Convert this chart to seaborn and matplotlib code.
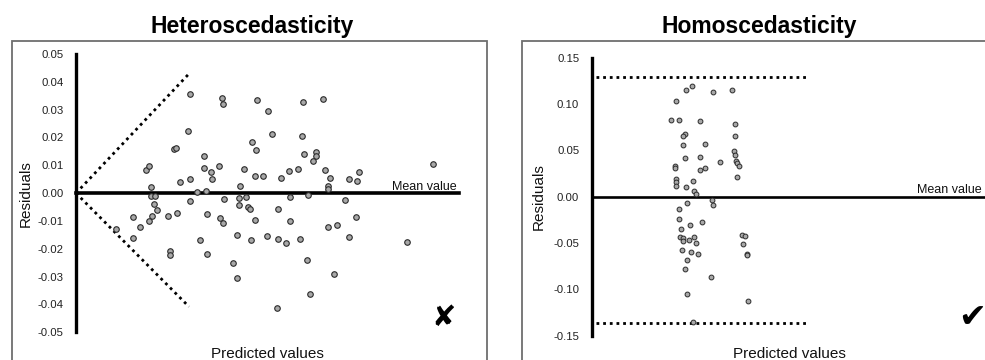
import matplotlib
matplotlib.use("Agg")
import matplotlib.pyplot as plt
import seaborn as sns
import pandas as pd
from matplotlib.patches import Rectangle

# ---------------- data ----------------
hetero_x = [2.38, 3.06, 3.08, 3.79, 4.00, 4.75, 5.16, 2.33, 2.04, 2.09, 3.67, 3.76, 4.10, 4.72,
            2.68, 5.01, 5.01, 4.77, 4.94, 1.46, 1.52, 7.45, 2.68, 2.82, 2.99, 3.51, 3.74, 3.90,
            4.45, 4.63, 5.20, 5.91, 4.28, 5.30, 5.70, 5.86, 2.38, 2.18, 2.85, 1.56, 3.42, 5.26,
            5.26, 1.57, 1.65, 1.63, 1.69, 2.53, 2.71, 2.38, 3.10, 3.40, 3.55, 3.40, 3.60, 3.64,
            1.19, 1.59, 1.53, 1.92, 2.12, 2.73, 3.00, 3.07, 3.73, 1.33, 0.84, 4.22, 1.20, 1.96,
            1.97, 2.60, 2.73, 3.27, 3.37, 3.37, 3.66, 3.98, 4.22, 4.38, 4.48, 4.47, 4.19, 4.68,
            4.85, 4.83, 4.89, 5.26, 5.46, 5.38, 5.61, 5.70, 5.85, 6.92]
hetero_y = [0.0356, 0.0343, 0.0319, 0.0336, 0.0296, 0.0327, 0.0340, 0.0222, 0.0157, 0.0164,
            0.0182, 0.0156, 0.0211, 0.0205, 0.0132, 0.0147, 0.0135, 0.0139, 0.0114, 0.0082,
            0.0097, 0.0103, 0.0089, 0.0076, 0.0097, 0.0088, 0.0060, 0.0060, 0.0078, 0.0088,
            0.0084, 0.0076, 0.0055, 0.0053, 0.0051, 0.0045, 0.0051, 0.0041, 0.0051, 0.0021,
            0.0026, 0.0024, 0.0014, -0.0010, -0.0010, -0.0040, -0.0061, 0.0005, 0.0008, -0.0029,
            -0.0022, -0.0017, -0.0014, -0.0044, -0.0050, -0.0057, -0.0085, -0.0083, -0.0101,
            -0.0083, -0.0070, -0.0074, -0.0091, -0.0109, -0.0095, -0.0120, -0.0130, -0.0056,
            -0.0162, -0.0209, -0.0223, -0.0168, -0.0219, -0.0252, -0.0149, -0.0305, -0.0168,
            -0.0154, -0.0164, -0.0178, -0.0014, -0.0099, -0.0413, -0.0163, -0.0008, -0.0239,
            -0.0363, -0.0122, -0.0115, -0.0291, -0.0025, -0.0158, -0.0086, -0.0175]

homo_x = [1.19, 1.27, 1.07, 1.54, 1.77, 1.01, 1.11, 1.37, 1.81, 1.18, 1.16, 1.81, 1.15, 1.43,
          1.80, 1.82, 1.83, 1.84, 1.86, 1.18, 1.37, 1.62, 1.06, 1.05, 1.44, 1.37, 1.07, 1.07,
          1.07, 1.19, 1.28, 1.84, 1.29, 1.32, 1.10, 1.21, 1.52, 1.54, 1.11, 1.13, 1.24, 1.39,
          1.12, 1.16, 1.16, 1.23, 1.29, 1.32, 1.14, 1.26, 1.35, 1.20, 1.18, 1.51, 1.20, 1.28,
          1.90, 1.94, 1.91, 1.96, 1.96, 1.98]
homo_y = [0.1156, 0.1195, 0.1033, 0.1128, 0.1148, 0.0826, 0.0823, 0.0815, 0.0788, 0.0673,
          0.0656, 0.0650, 0.0554, 0.0565, 0.0497, 0.0454, 0.0387, 0.0359, 0.0326, 0.0413,
          0.0427, 0.0375, 0.0335, 0.0305, 0.0310, 0.0283, 0.0192, 0.0159, 0.0116, 0.0106,
          0.0165, 0.0213, 0.0063, 0.0024, -0.0130, -0.0063, -0.0032, -0.0092, -0.0245, -0.0349,
          -0.0310, -0.0278, -0.0434, -0.0445, -0.0477, -0.0468, -0.0435, -0.0497, -0.0574,
          -0.0597, -0.0618, -0.0688, -0.0781, -0.0871, -0.1050, -0.1352, -0.0410, -0.0424,
          -0.0511, -0.0616, -0.0626, -0.1128]

# guide lines (funnel on the left, band on the right)
funnel_x = [0.0, 2.36]
funnel_upper = [0.0, 0.0429]
funnel_lower = [0.0, -0.0408]
band_x = [0.05, 2.72]
band_upper = [0.1293, 0.1293]
band_lower = [-0.1368, -0.1368]

hetero_yticks = [0.05, 0.04, 0.03, 0.02, 0.01, 0.00, -0.01, -0.02, -0.03, -0.04, -0.05]
hetero_ylabels = ["0.05", "0.04", "0.03", "0.02", "0.01", "0.00", "-0.01", "-0.02", "-0.03", "-0.04", "-0.05"]
homo_yticks = [0.15, 0.10, 0.05, 0.00, -0.05, -0.10, -0.15]
homo_ylabels = ["0.15", "0.10", "0.05", "0.00", "-0.05", "-0.10", "-0.15"]

titles = ["Heteroscedasticity", "Homoscedasticity"]
x_label = "Predicted values"
y_label = "Residuals"
mean_label = "Mean value"

# ---------------- styling ----------------
sns.set_style("white")
plt.rcParams["font.family"] = ["Liberation Sans", "DejaVu Sans"]
plt.rcParams["axes.unicode_minus"] = False

W, H = 985, 360
fig = plt.figure(figsize=(W / 100, H / 100), dpi=100)

def fx(px):
    return px / W

def fy(py):
    return (H - py) / H

# panel frames
fig.patches.append(Rectangle((fx(11.7), fy(420)), fx(487.3) - fx(11.7), fy(40.7) - fy(420),
                             transform=fig.transFigure, fill=False, edgecolor="#6e6e6e", lw=1.3))
fig.patches.append(Rectangle((fx(521.7), fy(420)), fx(1000) - fx(521.7), fy(40.7) - fy(420),
                             transform=fig.transFigure, fill=False, edgecolor="#6e6e6e", lw=1.3))

axL = fig.add_axes([fx(76), fy(332.3), fx(459) - fx(76), fy(54) - fy(332.3)])
axR = fig.add_axes([fx(591.7), fy(335.7), fx(986.7) - fx(591.7), fy(57.7) - fy(335.7)])

def style_axis(ax, xmax, ylim, yticks, ylabels, hlw, tlen):
    ax.set_facecolor("none")
    ax.set_xlim(0, xmax)
    ax.set_ylim(*ylim)
    for s in ["top", "right"]:
        ax.spines[s].set_visible(False)
    ax.spines["left"].set_linewidth(2.4)
    ax.spines["left"].set_color("black")
    ax.spines["bottom"].set_position(("data", 0))
    ax.spines["bottom"].set_linewidth(hlw)
    ax.spines["bottom"].set_color("black")
    ax.set_xticks(range(0, int(xmax) + 1))
    ax.set_xticklabels([])
    ax.tick_params(axis="x", direction="out", length=tlen, width=2, color="black", pad=0)
    ax.set_yticks(yticks)
    ax.set_yticklabels(ylabels)
    ax.tick_params(axis="y", direction="out", length=3, width=2, color="black",
                   labelsize=8.2, pad=6, labelcolor="#222222")

style_axis(axL, 8, (-0.05, 0.05), hetero_yticks, hetero_ylabels, 2.6, 2.5)
style_axis(axR, 5, (-0.15, 0.15), homo_yticks, homo_ylabels, 1.9, 2.0)

dfL = pd.DataFrame({"x": hetero_x, "y": hetero_y})
dfR = pd.DataFrame({"x": homo_x, "y": homo_y})
sns.scatterplot(data=dfL, x="x", y="y", ax=axL, s=16, color="#a8a8a8",
                edgecolor="#2b2b2b", linewidth=0.8, zorder=4, legend=False)
sns.scatterplot(data=dfR, x="x", y="y", ax=axR, s=12, color="#a8a8a8",
                edgecolor="#2b2b2b", linewidth=0.7, zorder=4, legend=False)
for ax in (axL, axR):
    ax.set_xlabel("")
    ax.set_ylabel("")

dot = (0, (1, 1.4))
axL.plot(funnel_x, funnel_upper, color="black", lw=2, linestyle=dot, zorder=3)
axL.plot(funnel_x, funnel_lower, color="black", lw=2, linestyle=dot, zorder=3)
axR.plot(band_x, band_upper, color="black", lw=2, linestyle=dot, zorder=3)
axR.plot(band_x, band_lower, color="black", lw=2, linestyle=dot, zorder=3)

for ax, xm in [(axL, 7.94), (axR, 4.94)]:
    ax.annotate(mean_label, xy=(xm, 0), xytext=(0, 2.6), textcoords="offset points",
                ha="right", va="baseline", fontsize=9, color="#111111")

# y labels
fig.text(fx(26), fy(193.3), y_label, rotation=90, ha="center", va="center", fontsize=11, color="#111111")
fig.text(fx(538.5), fy(196.5), y_label, rotation=90, ha="center", va="center", fontsize=11, color="#111111")

# x labels
fig.text(fx(267.5), fy(358), x_label, ha="center", va="baseline", fontsize=11, color="#111111")
fig.text(fx(789.2), fy(358), x_label, ha="center", va="baseline", fontsize=11, color="#111111")

# titles
fig.text(fx(252), fy(33.3), titles[0], ha="center", va="baseline", fontsize=16.5,
         fontweight="bold", color="black")
fig.text(fx(759), fy(33.3), titles[1], ha="center", va="baseline", fontsize=16.5,
         fontweight="bold", color="black")

# verdict marks
fig.text(fx(443.7), fy(317.5), "\u2718", ha="center", va="center", fontsize=21,
         family="DejaVu Sans", color="black")
fig.text(fx(971.7), fy(317.5), "\u2714", ha="center", va="center", fontsize=24,
         family="DejaVu Sans", color="black")

fig.savefig("out.png", dpi=100)
